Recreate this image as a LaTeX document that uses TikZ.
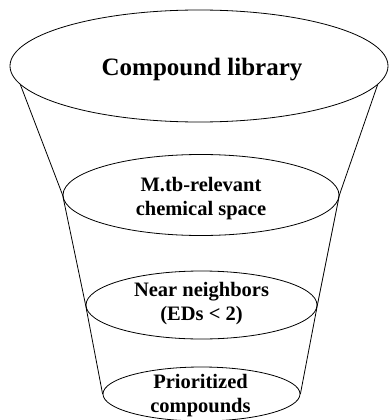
\documentclass[tikz,border=0pt]{standalone}
\usepackage{fontspec}
\setmainfont{Liberation Serif}
\usetikzlibrary{shapes.geometric}
\begin{document}
\begin{tikzpicture}[x=1pt,y=-1pt,
  level/.style={draw, ellipse, inner sep=0pt, line width=0.8pt},
  side/.style={line width=0.8pt},
  big/.style={font=\bfseries\fontsize{25}{28}\selectfont, align=center, anchor=base},
  lbl/.style={font=\bfseries\fontsize{20.5}{23.5}\selectfont, align=center, anchor=base}]
\useasboundingbox (0,0) rectangle (389,420);
\fill[white] (0,0) rectangle (389,420);
\node[level, minimum width=378pt, minimum height=112pt] (e1) at (199,66) {};
\node[level, minimum width=276pt, minimum height=81pt] (e2) at (201,195) {};
\node[level, minimum width=231pt, minimum height=68pt] (e3) at (201.5,305) {};
\node[level, minimum width=197pt, minimum height=54pt] (e4) at (201.5,394) {};
\draw[side] (e1.186) -- (e2.west) -- (e3.west) -- (e4.west);
\draw[side] (e1.354) -- (e2.east) -- (e3.east) -- (e4.east);
\node[big] (t1) at (202,75) {Compound library};
\node[lbl] (t2) at (201,215) {M.tb-relevant\\chemical space};
\node[lbl] (t3) at (201.5,320) {Near neighbors\\(EDs < 2)};
\node[lbl] (t4) at (200.5,412) {Prioritized\\compounds};
\end{tikzpicture}
\end{document}
